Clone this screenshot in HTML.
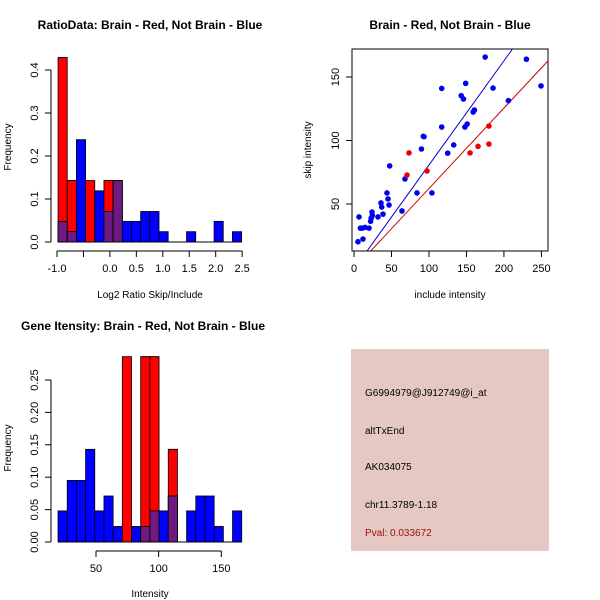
<!DOCTYPE html>
<html><head><meta charset="utf-8"><style>
body{margin:0;background:#fff}
svg{display:block;font-family:"Liberation Sans",sans-serif}
</style></head><body>
<svg id="s" width="600" height="600" viewBox="0 0 600 600">
<text x="150" y="29" text-anchor="middle" font-size="12" font-weight="bold">RatioData: Brain - Red, Not Brain - Blue</text>
<text x="450" y="29" text-anchor="middle" font-size="12" font-weight="bold">Brain - Red, Not Brain - Blue</text>
<text x="143" y="330" text-anchor="middle" font-size="12" font-weight="bold">Gene Itensity: Brain - Red, Not Brain - Blue</text>
<text x="150" y="298" text-anchor="middle" font-size="10">Log2 Ratio Skip/Include</text>
<text x="11" y="147" text-anchor="middle" font-size="10" transform="rotate(-90 11 147)">Frequency</text>
<text x="450" y="298" text-anchor="middle" font-size="10">include intensity</text>
<text x="311" y="150" text-anchor="middle" font-size="10" transform="rotate(-90 311 150)">skip intensity</text>
<text x="150" y="597" text-anchor="middle" font-size="10">Intensity</text>
<text x="11" y="448" text-anchor="middle" font-size="10" transform="rotate(-90 11 448)">Frequency</text>
<g id="p1"></g>
<g id="p2"></g>
<g id="p3"></g>
<rect x="351" y="349" width="198" height="202" fill="#e5c8c1"/>
<g font-size="10">
<text x="365" y="396">G6994979@J912749@i_at</text>
<text x="365" y="434">altTxEnd</text>
<text x="365" y="470">AK034075</text>
<text x="365" y="508">chr11.3789-1.18</text>
<text x="365" y="536" fill="#a01010">Pval: 0.033672</text>
</g>
</svg>
<script>
// Ratio histogram data
const ratioBinStart = -0.98;
const ratioBinWidth = 0.1735;
const ratioRed = [0.429,0.143,0,0.143,0,0.143,0.143,0,0,0,0,0,0,0,0,0,0,0,0,0];
const ratioBlue = [0.048,0.024,0.238,0,0.119,0.071,0.143,0.048,0.048,0.071,0.071,0.024,0,0,0.024,0,0,0.048,0,0.024];
const ratioXTicks = [-1.0,-0.5,0.0,0.5,1.0,1.5,2.0,2.5];
const ratioXLabels = ["-1.0","","0.0","0.5","1.0","1.5","2.0","2.5"];
const ratioYTicks = [0,0.1,0.2,0.3,0.4];
const ratioYLabels = ["0.0","0.1","0.2","0.3","0.4"];
// Scatter data
const blueX = [6.7,5.3,12,8.5,11,14.7,20,22.2,23,24,24.5,32,36,37,38.7,44,45.4,46.7,47.6,64,68,84,90,92.5,93.4,104,117,117,125,133,143,146,148,151,149,159,160.6,175,185.5,206,230,249.5];
const blueY = [39.8,20.3,22.4,31,31,31.6,31,36.4,39,43.7,41,39.8,50.8,47.6,42,58.7,54,49.2,80,44.5,69.7,58.7,93.3,103.3,103,58.7,141,110.6,90,96.5,135.3,132.7,110.6,113,145,122.4,124,165.7,141.3,131.4,164,143];
const redX = [73.4,70.7,97.4,154.8,165.5,180,180];
const redY = [90.2,72.8,76,90.2,95.4,97.2,111.4];
const blueLine = [-1.3,0.82];
const redLine = [-1.1,0.633];
const scatXTicks = [0,50,100,150,200,250];
const scatYTicks = [50,100,150];
// Intensity histogram data
const intBinStart = 19.7;
const intBinWidth = 7.33;
const intRed = [0,0,0,0,0,0,0,0.286,0,0.286,0.286,0,0.143,0,0,0,0,0,0,0];
const intBlue = [0.048,0.095,0.095,0.143,0.048,0.071,0.024,0,0.024,0.024,0.048,0.048,0.071,0,0.048,0.071,0.071,0.024,0,0.048];
const intXTicks = [50,100,150];
const intYTicks = [0,0.05,0.1,0.15,0.2,0.25];
const intYLabels = ["0.00","0.05","0.10","0.15","0.20","0.25"];

const NS="http://www.w3.org/2000/svg";
function mk(parent,tag,attrs){const e=document.createElementNS(NS,tag);for(const k in attrs)e.setAttribute(k,attrs[k]);parent.appendChild(e);return e;}

function hist(g,start,w,red,blue,X,Y,y0){
  for(let i=0;i<red.length;i++){
    const x1=X(start+i*w),x2=X(start+(i+1)*w);
    const r=red[i],b=blue[i],m=Math.min(r,b);
    if(r>0){const e=mk(g,'rect',{x:x1,y:Y(r),width:x2-x1,height:y0-Y(r),fill:'#ff0000',stroke:'#000','stroke-width':0.8});
      
      }
    if(b>0){const e=mk(g,'rect',{x:x1,y:Y(b),width:x2-x1,height:y0-Y(b),fill:'#0000ff',stroke:'#000','stroke-width':0.8});
      
      }
    if(m>0){const e=mk(g,'rect',{x:x1,y:Y(m),width:x2-x1,height:y0-Y(m),fill:'#6e1a82',stroke:'#000','stroke-width':0.8});
      
      }
    if(r>b&&b>0){mk(g,'line',{x1:x1,x2:x2,y1:Y(r),y2:Y(r),stroke:'#000','stroke-width':0.8});}
  }
}
function yAxis(g,x,ticks,labels,Y){
  mk(g,'line',{x1:x,x2:x,y1:Y(ticks[0]),y2:Y(ticks[ticks.length-1]),stroke:'#000'});
  ticks.forEach((t,i)=>{mk(g,'line',{x1:x-6,x2:x,y1:Y(t),y2:Y(t),stroke:'#000'});
    const tx=mk(g,'text',{x:x-13,y:Y(t),'font-size':11,'text-anchor':'middle',transform:`rotate(-90 ${x-13} ${Y(t)})`});tx.textContent=labels[i];
    
    });
}
function xAxis(g,y,ticks,labels,X){
  mk(g,'line',{x1:X(ticks[0]),x2:X(ticks[ticks.length-1]),y1:y,y2:y,stroke:'#000'});
  ticks.forEach((t,i)=>{mk(g,'line',{x1:X(t),x2:X(t),y1:y,y2:y+6,stroke:'#000'});
    const tx=mk(g,'text',{x:X(t),y:y+21,'font-size':11,'text-anchor':'middle'});tx.textContent=labels[i];
    
    });
}
// Plot 1
{const g=document.getElementById('p1');
 const X=v=>57+(v+1)*52.9, Y=v=>242-v*430;
 hist(g,ratioBinStart,ratioBinWidth,ratioRed,ratioBlue,X,Y,242);
 mk(g,'line',{x1:X(ratioBinStart),x2:X(ratioBinStart+20*ratioBinWidth),y1:242,y2:242,stroke:'#000'});
 yAxis(g,51,ratioYTicks,ratioYLabels,Y);
 xAxis(g,251,ratioXTicks,ratioXLabels,X);}
// Plot 2
{const g=document.getElementById('p2');
 const X=v=>354+v*0.7496, Y=v=>204-(v-50)*1.27;
 mk(g,'rect',{x:352,y:49,width:196,height:202,fill:'none',stroke:'#000'});
 mk(g,'clipPath',{id:'cp'}).appendChild(document.createElementNS(NS,'rect'));
 const cr=document.querySelector('#cp rect');cr.setAttribute('x',352);cr.setAttribute('y',49);cr.setAttribute('width',196);cr.setAttribute('height',202);
 const lines=mk(g,'g',{'clip-path':'url(#cp)'});
 [[blueLine,'#0000cc'],[redLine,'#cc0000']].forEach(([l,c])=>{
   const e=mk(lines,'line',{x1:X(0),y1:Y(l[0]),x2:X(300),y2:Y(l[0]+l[1]*300),stroke:c,'stroke-width':1});
   
   });
 blueX.forEach((v,i)=>{const e=mk(g,'circle',{cx:X(v),cy:Y(blueY[i]),r:2.8,fill:'#0000ee'});
   
   });
 redX.forEach((v,i)=>{const e=mk(g,'circle',{cx:X(v),cy:Y(redY[i]),r:2.8,fill:'#ee0000'});
   
   });
 xAxis(g,251,scatXTicks,scatXTicks.map(String),X);
 scatYTicks.forEach(t=>{mk(g,'line',{x1:346,x2:352,y1:Y(t),y2:Y(t),stroke:'#000'});
   const tx=mk(g,'text',{x:339,y:Y(t),'font-size':11,'text-anchor':'middle',transform:`rotate(-90 339 ${Y(t)})`});tx.textContent=String(t);
   
   });}
// Plot 3
{const g=document.getElementById('p3');
 const X=v=>96+(v-50)*1.253, Y=v=>542-v*648;
 hist(g,intBinStart,intBinWidth,intRed,intBlue,X,Y,542);
 mk(g,'line',{x1:X(intBinStart),x2:X(intBinStart+20*intBinWidth),y1:542,y2:542,stroke:'#000'});
 yAxis(g,51,intYTicks,intYLabels,Y);
 xAxis(g,551,intXTicks,intXTicks.map(String),X);}
</script>
</body></html>
